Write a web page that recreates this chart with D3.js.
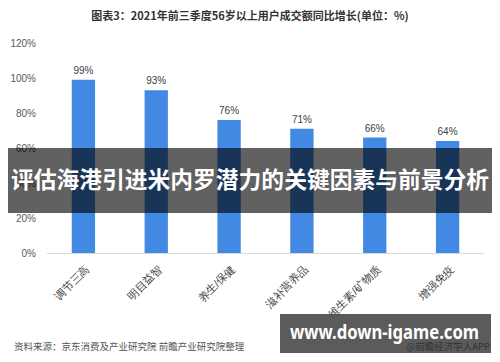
<!DOCTYPE html>
<html>
<head>
<meta charset="utf-8">
<script src="https://cdn.jsdelivr.net/npm/d3@7"></script>
<style>
	body { margin: 0; background: #fff; }
	svg { display: block; font-family: "Noto Sans CJK SC", "Noto Sans", sans-serif; }
</style>
</head>
<body>
<div id="chart"></div>
<script>
// --------- Data --------- //
var categories = ["调节三高", "明目益智", "养生/保健", "滋补营养品", "维生素/矿物质", "增强免疫"];
var growth = [99, 93, 76, 71, 66, 64];
var yTicks = [0, 20, 40, 60, 80, 100, 120];
var title = "图表3：2021年前三季度56岁以上用户成交额同比增长(单位：%)";
var source = "资料来源：京东消费及产业研究院 前瞻产业研究院整理";
var banner = "评估海港引进米内罗潜力的关键因素与前景分析";
var siteLabel = "www.down-igame.com";
var credit = "@前瞻经济学人APP";
// --------- /Data --------- //

var width = 500, height = 362;
var plot = {left: 47, right: 484, top: 43, bottom: 253};

var svg = d3.select("#chart").append("svg")
	.attr("width", width)
	.attr("height", height);

// title
svg.append("text")
	.attr("x", 250).attr("y", 20)
	.attr("text-anchor", "middle")
	.style("font-size", "11px").style("font-weight", "bold")
	.attr("fill", "#333")
	.text(title);

var x = d3.scaleBand().domain(categories).range([plot.left, plot.right]).paddingInner(0.68).paddingOuter(0.34);
var y = d3.scaleLinear().domain([0, 120]).range([plot.bottom, plot.top]);

// y axis labels (no line)
var yAxis = d3.axisLeft(y).tickValues(yTicks).tickSize(0).tickPadding(0)
	.tickFormat(function(d){ return d + "%"; });
var yG = svg.append("g").attr("transform", "translate(36,0)").call(yAxis);
yG.select(".domain").remove();
yG.selectAll("text").style("font-size", "10px").attr("fill", "#595959")
	.style("font-family", "Liberation Sans, Arial, sans-serif");

// bars
svg.selectAll("rect.bar").data(growth).enter().append("rect")
	.attr("class", "bar")
	.attr("x", function(d, i){ return x(categories[i]); })
	.attr("width", x.bandwidth())
	.attr("y", function(d){ return y(d); })
	.attr("height", function(d){ return y(0) - y(d); })
	.attr("fill", "#4189e3");

// value labels
svg.selectAll("text.val").data(growth).enter().append("text")
	.attr("class", "val")
	.attr("x", function(d, i){ return x(categories[i]) + x.bandwidth() / 2; })
	.attr("y", function(d){ return y(d) - 6; })
	.attr("text-anchor", "middle")
	.style("font-size", "10px")
	.style("font-family", "Liberation Sans, Arial, sans-serif")
	.attr("fill", "#404040")
	.text(function(d){ return d + "%"; });

// x axis
var xAxis = d3.axisBottom(x).tickSize(0).tickPadding(0);
var xG = svg.append("g").attr("transform", "translate(0," + plot.bottom + ")").call(xAxis);
xG.select(".domain").attr("stroke", "#d9d9d9").attr("d", "M" + plot.left + ",0.5H" + plot.right);
xG.selectAll("text")
	.style("font-size", "11px")
	.attr("fill", "#404040")
	.attr("text-anchor", "end")
	.attr("dy", "0.35em")
	.attr("transform", "translate(4,14) rotate(-45)");

// source
svg.append("text")
	.attr("x", 14).attr("y", 350)
	.style("font-size", "9.5px")
	.attr("fill", "#555")
	.text(source);

// overlay banner
svg.append("rect")
	.attr("x", 8).attr("y", 148)
	.attr("width", 484).attr("height", 65)
	.attr("fill", "#000").attr("fill-opacity", 0.62);
svg.append("text")
	.attr("x", 250).attr("y", 180)
	.attr("dy", "0.35em")
	.attr("text-anchor", "middle")
	.attr("textLength", 478).attr("lengthAdjust", "spacingAndGlyphs")
	.style("font-size", "22.5px").style("font-weight", "bold")
	.attr("fill", "#fff")
	.text(banner);

// site box
svg.append("rect")
	.attr("x", 280).attr("y", 314)
	.attr("width", 211).attr("height", 39)
	.attr("fill", "#444").attr("fill-opacity", 0.88);
svg.append("text")
	.attr("x", 290).attr("y", 332)
	.attr("dy", "0.35em")
	.attr("textLength", 189).attr("lengthAdjust", "spacingAndGlyphs")
	.style("font-size", "19px").style("font-weight", "bold")
	.style("font-family", "Noto Sans, sans-serif")
	.attr("fill", "#fff")
	.text(siteLabel);
svg.append("text")
	.attr("x", 490).attr("y", 350)
	.attr("text-anchor", "end")
	.style("font-size", "9.5px")
	.attr("fill", "#333")
	.text(credit);
</script>
</body>
</html>
